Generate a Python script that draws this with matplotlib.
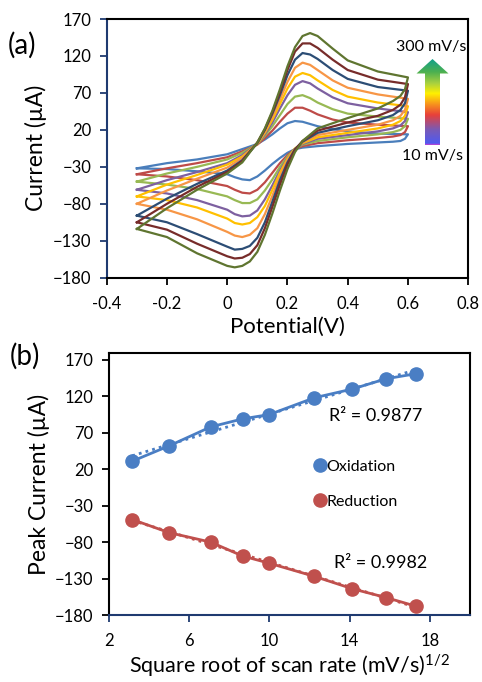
import numpy as np
import matplotlib
matplotlib.use('Agg')
import matplotlib.pyplot as plt
from matplotlib.colors import LinearSegmentedColormap
from matplotlib.patches import Polygon
from matplotlib.lines import Line2D

plt.rcParams['font.family'] = ['Lato', 'DejaVu Sans']
plt.rcParams['mathtext.fontset'] = 'custom'
plt.rcParams['mathtext.rm'] = 'Lato'
plt.rcParams['mathtext.it'] = 'Lato:italic'

# ---- (a) cyclic voltammograms ----
scan_rates = [10, 25, 50, 75, 100, 150, 200, 250, 300]
cv_colors = ['#4A7EBB', '#BE4B48', '#98B954', '#7D60A0', '#FFC000',
             '#F79646', '#2C4D75', '#772C2A', '#5F7530']

e_fwd = [-0.3, -0.2, -0.1, 0.0, 0.05, 0.1, 0.125, 0.15, 0.175, 0.2,
         0.225, 0.25, 0.275, 0.3, 0.35, 0.4, 0.5, 0.6]
e_rev = [0.6, 0.59, 0.575, 0.55, 0.5, 0.4, 0.3, 0.25, 0.225, 0.2, 0.175,
         0.15, 0.125, 0.1, 0.075, 0.05, 0.025, 0.0, -0.1, -0.2, -0.3]

fwd_10 = [-32, -25, -20, -13, -6, 1, 7, 14, 22, 29, 32, 31, 28, 25, 21, 18, 15, 14]
fwd_25 = [-40, -32, -25, -17, -9, 0, 9, 19, 31, 42, 50, 50, 46, 41, 34, 30, 27, 25]
fwd_50 = [-50, -39, -30, -20, -11, 1, 12, 25, 40, 55, 65, 67, 63, 57, 48, 42, 38, 35]
fwd_75 = [-61, -48, -37, -25, -14, 1, 14, 30, 49, 67, 81, 86, 83, 76, 64, 56, 49, 44]
fwd_100 = [-70, -54, -41, -27, -16, 1, 16, 34, 55, 76, 92, 97, 94, 87, 74, 65, 57, 52]
fwd_150 = [-80, -62, -46, -31, -18, 2, 18, 38, 61, 85, 104, 111, 108, 101, 87, 77, 68, 62]
fwd_200 = [-96, -73, -53, -35, -21, 2, 20, 42, 67, 94, 115, 124, 122, 116, 101, 89, 78, 73]
fwd_250 = [-105, -80, -57, -37, -22, 3, 21, 44, 71, 101, 126, 137, 137, 131, 115, 101, 88, 82]
fwd_300 = [-114, -86, -61, -39, -24, 3, 22, 46, 75, 106, 132, 147, 151, 147, 130, 114, 99, 91]

rev_10 = [14, 8, 5, 4, 3, 1, -2, -4, -6, -11, -18, -26, -35, -43, -48, -47, -44, -40, -36, -33, -32]
rev_25 = [25, 17, 13, 11, 9, 6, 2, -2, -6, -14, -25, -38, -51, -61, -66, -65, -61, -56, -48, -43, -40]
rev_50 = [35, 25, 20, 17, 14, 10, 5, 0, -6, -16, -30, -47, -62, -74, -79, -79, -75, -70, -60, -54, -50]
rev_75 = [44, 32, 26, 22, 18, 13, 8, 1, -6, -18, -35, -55, -74, -89, -96, -97, -94, -88, -75, -66, -61]
rev_100 = [52, 39, 32, 27, 22, 16, 10, 2, -5, -19, -38, -61, -83, -98, -106, -108, -106, -100, -85, -75, -70]
rev_150 = [62, 47, 39, 33, 27, 20, 13, 3, -6, -21, -43, -69, -94, -113, -122, -125, -123, -118, -101, -88, -80]
rev_200 = [73, 56, 47, 40, 33, 25, 16, 4, -6, -24, -48, -77, -105, -126, -137, -141, -142, -138, -121, -105, -96]
rev_250 = [82, 64, 54, 47, 39, 30, 19, 5, -7, -27, -54, -84, -113, -136, -148, -153, -154, -151, -134, -115, -105]
rev_300 = [91, 75, 66, 59, 49, 36, 22, 5, -10, -33, -62, -93, -122, -145, -158, -164, -166, -164, -147, -125, -114]

fwd_curves = [fwd_10, fwd_25, fwd_50, fwd_75, fwd_100, fwd_150, fwd_200, fwd_250, fwd_300]
rev_curves = [rev_10, rev_25, rev_50, rev_75, rev_100, rev_150, rev_200, rev_250, rev_300]

# ---- (b) peak currents ----
ox_peak = [31, 52, 78, 89, 95, 118, 130, 144, 151]
red_peak = [-49, -67, -80, -99, -109, -127, -144, -156, -168]
sqrt_rate = np.sqrt(scan_rates)

navy = '#1F3A70'
blue = '#4A7EC4'
red = '#C0504D'

fig = plt.figure(figsize=(4.82, 6.82), dpi=100)

# ---------- panel (a) ----------
ax1 = fig.add_axes([0.2214, 0.5928, 0.750, 0.3793])
for c, f, r in zip(cv_colors, fwd_curves, rev_curves):
    ax1.plot(e_fwd + e_rev, f + r, color=c, lw=1.6, solid_joinstyle='round')
ax1.set_xlim(-0.4, 0.8)
ax1.set_ylim(-180, 170)
ax1.set_xticks([-0.4, -0.2, 0, 0.2, 0.4, 0.6, 0.8])
ax1.set_xticklabels(['-0.4', '-0.2', '0', '0.2', '0.4', '0.6', '0.8'])
ax1.set_yticks(np.arange(170, -181, -50))
ax1.set_ylabel('Current (µA)', fontsize=16.5, labelpad=4)
ax1.set_xlabel('Potential(V)', fontsize=16, labelpad=4)

# ---------- panel (b) ----------
ax2 = fig.add_axes([0.226, 0.0982, 0.749, 0.3838])
ax2.plot(sqrt_rate, ox_peak, color=blue, lw=2, marker='o', ms=9.5, zorder=3)
ax2.plot(sqrt_rate, red_peak, color=red, lw=2, marker='o', ms=9.5, zorder=3)
for yv, col in [(ox_peak, blue), (red_peak, red)]:
    p = np.polyfit(sqrt_rate, yv, 1)
    xx = np.array([sqrt_rate[0], sqrt_rate[-1]])
    ax2.plot(xx, np.polyval(p, xx), color=col, lw=2, ls=(0, (1, 1.5)), zorder=2)
ax2.set_xlim(2, 20)
ax2.set_ylim(-180, 179)
ax2.set_xticks([2, 6, 10, 14, 18])
ax2.set_yticks(np.arange(170, -181, -50))
ax2.set_ylabel('Peak Current (µA)', fontsize=16.5, labelpad=4)
ax2.set_xlabel('Square root of scan rate (mV/s)$^{1/2}$', fontsize=15.5, labelpad=2)
ax2.text(15.3, 93, 'R² = 0.9877', fontsize=13, ha='center', va='center')
ax2.text(15.55, -108, 'R² = 0.9982', fontsize=13, ha='center', va='center')
handles = [Line2D([], [], ls='none', marker='o', ms=9.5, color=blue),
           Line2D([], [], ls='none', marker='o', ms=9.5, color=red)]
ax2.legend(handles, ['Oxidation', 'Reduction'], loc='center left',
           bbox_to_anchor=(0.53, 0.50), frameon=False, fontsize=11.5,
           handlelength=0.7, handletextpad=0.05, labelspacing=1.3)

for ax in (ax1, ax2):
    for s in ax.spines.values():
        s.set_linewidth(1.5)
        s.set_color('black')
    ax.tick_params(direction='out', length=5, width=1.3, labelsize=12)
    ax.tick_params(axis='y', pad=6)
    ax.tick_params(axis='x', pad=8)
ax1.spines['left'].set_color(navy)
ax2.spines['bottom'].set_color(navy)
ax1.tick_params(axis='y', color=navy)
ax2.tick_params(axis='x', color=navy)

fig.text(0.046, 0.934, '(a)', fontsize=20, va='center', ha='center')
fig.text(0.052, 0.477, '(b)', fontsize=20, va='center', ha='center')

# ---------- gradient scan-rate arrow ----------
ov = fig.add_axes([0, 0, 1, 1], zorder=5)
ov.patch.set_alpha(0)
ov.axis('off')
arrow_cmap = LinearSegmentedColormap.from_list('rate', [
    (0.0, '#C040D0'), (0.02, '#4F5AF0'), (0.18, '#7A5AB5'), (0.35, '#E8403A'),
    (0.47, '#F7901E'), (0.6, '#FFF000'), (0.72, '#A8D040'), (0.85, '#4CB050'),
    (1.0, '#12A08A')])
grad = np.linspace(1, 0, 256).reshape(-1, 1)
im = ov.imshow(grad, extent=[416, 449, 145, 59], cmap=arrow_cmap, aspect='auto', origin='upper')
shape = Polygon([(425, 145), (440, 145), (440, 73.5), (448.5, 73.5), (432.5, 59),
                 (416.5, 73.5), (425, 73.5)], closed=True, transform=ov.transData,
                facecolor='none', edgecolor='none')
ov.add_patch(shape)
im.set_clip_path(shape)
ov.set_xlim(0, 482)
ov.set_ylim(682, 0)
ov.text(431, 47, '300 mV/s', fontsize=11.5, ha='center', va='center')
ov.text(433, 156, '10 mV/s', fontsize=11.5, ha='center', va='center')

fig.savefig('out.png', dpi=100)
